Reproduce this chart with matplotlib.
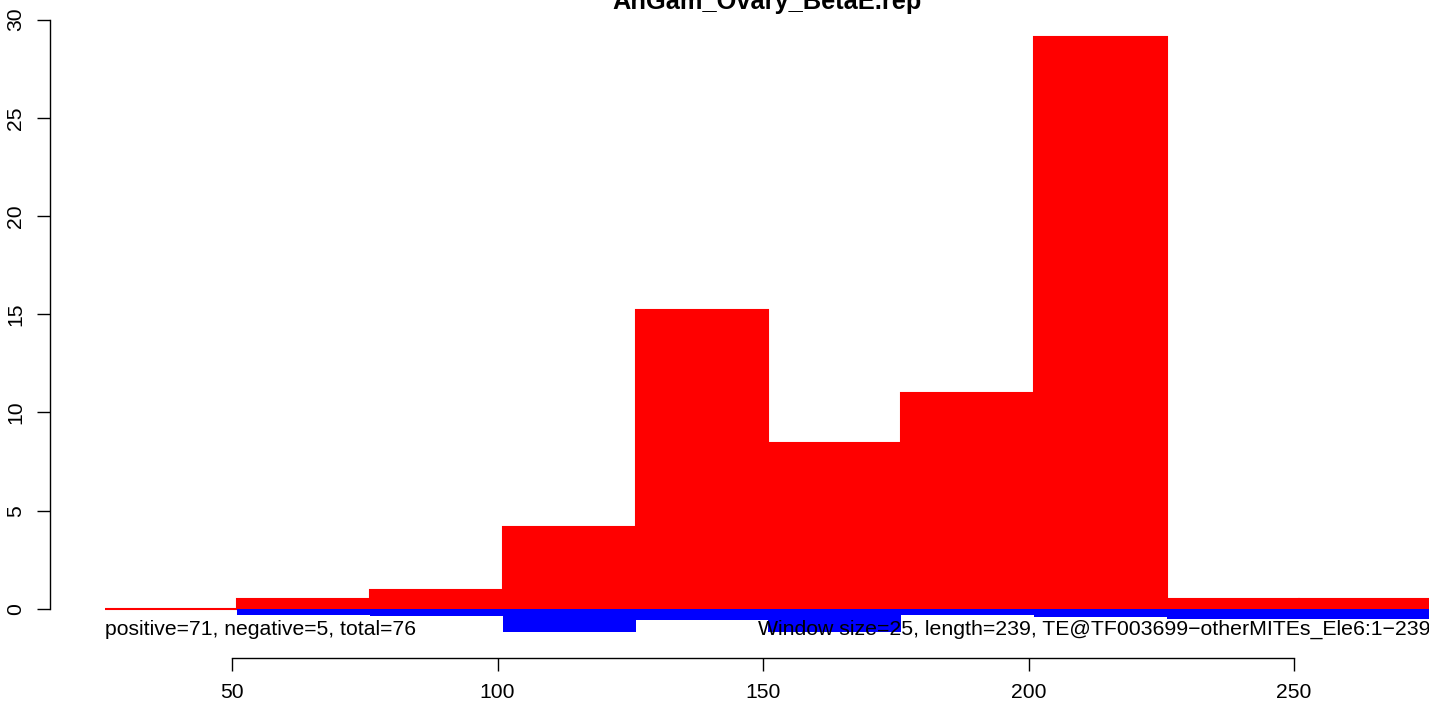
import matplotlib
matplotlib.use("Agg")
import matplotlib.pyplot as plt
import numpy as np

plt.rcParams['font.family'] = ['Liberation Sans', 'DejaVu Sans']

# bin starts (window size 25) and per-bin values
bin_start = [26, 51, 76, 101, 126, 151, 176, 201, 226, 251]
window = 25
pos_vals = [0, 0.51, 0.97, 4.18, 15.23, 8.46, 11.0, 29.14, 0.51, 0.51]
neg_vals = [0, -0.3, -0.38, -1.2, -0.56, -1.2, -0.3, -0.4, -0.5, -0.5]

title = "AnGam_Ovary_BetaE.rep"
left_note = "positive=71, negative=5, total=76"
right_note = "Window size=25, length=239, TE@TF003699\u2212otherMITEs_Ele6:1\u2212239"
xticks = [50, 100, 150, 200, 250]
yticks = [0, 5, 10, 15, 20, 25, 30]

W, H = 1429, 706
fig = plt.figure(figsize=(W / 100, H / 100), dpi=100)
ax = fig.add_axes([50 / W, (H - 658) / H, (W - 50) / W, 658 / H])

x = np.array(bin_start)
ax.bar(x, pos_vals, width=window, align='edge', color='#ff0000',
       edgecolor='#ff0000', linewidth=1.5)
ax.bar(x[1:], neg_vals[1:], width=window, align='edge', color='#0000ff',
       edgecolor='none')

ax.set_xlim(15.72, 275.4)
ax.set_ylim(-2.5, 31.0)

ax.text(bin_start[0], -1.32, left_note, fontsize=15.2, ha='left', va='baseline')
ax.text(149.06, -1.32, right_note, fontsize=15.3, ha='left', va='baseline',
        clip_on=False)

for s in ['top', 'right']:
    ax.spines[s].set_visible(False)
ax.spines['left'].set_bounds(0, 30)
ax.spines['bottom'].set_bounds(50, 250)
ax.spines['left'].set_linewidth(1.0)
ax.spines['bottom'].set_linewidth(1.0)

ax.set_xticks(xticks)
ax.set_yticks(yticks)
ax.tick_params(axis='both', direction='out', length=9.4, width=1.0,
               labelsize=15.2)
ax.tick_params(axis='x', pad=8.6)
ax.tick_params(axis='y', pad=8.4)
for lab in ax.get_yticklabels():
    lab.set_rotation(90)
    lab.set_va('center')

fig.text(767 / W, (H - 9) / H, title, fontsize=18.3, fontweight='bold',
         ha='center', va='baseline')

fig.savefig("out.png", dpi=100)
